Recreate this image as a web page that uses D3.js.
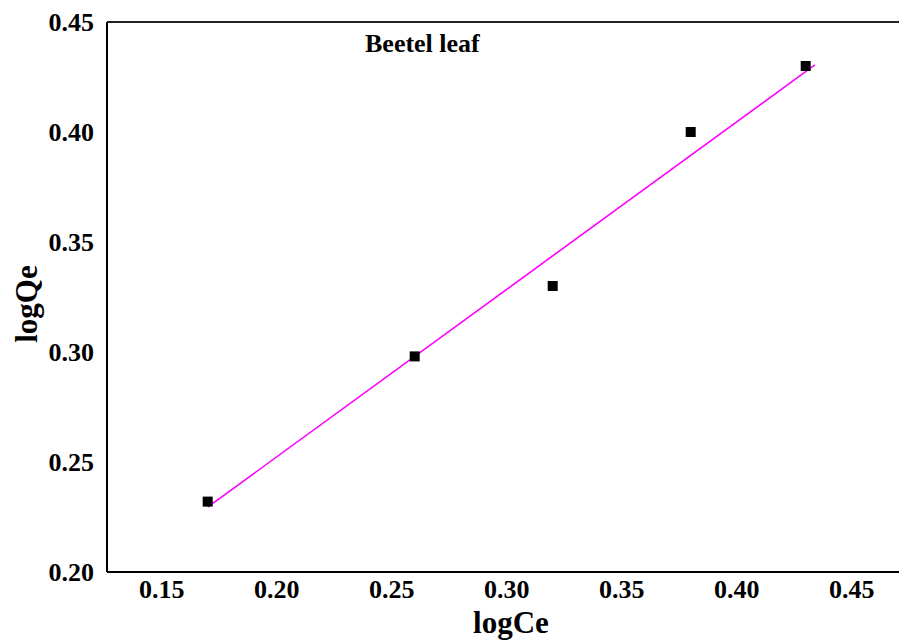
<!DOCTYPE html>
<html>
<head>
<meta charset="utf-8">
<script src="https://cdn.jsdelivr.net/npm/d3@7"></script>
<style>
  html, body { margin: 0; padding: 0; background: #fff; }
  svg { display: block; }
  text { font-family: "Liberation Serif", "Times New Roman", serif; font-weight: bold; fill: #000; }
</style>
</head>
<body>
<script>
// Data
const logCe = [0.17, 0.26, 0.32, 0.38, 0.43];
const logQe = [0.232, 0.298, 0.33, 0.40, 0.43];
const fitX = [0.17, 0.434];
const fitY = [0.2295, 0.4305];
const xTicks = [0.15, 0.20, 0.25, 0.30, 0.35, 0.40, 0.45];
const yTicks = [0.20, 0.25, 0.30, 0.35, 0.40, 0.45];
const chartTitle = "Beetel leaf";

(function () {
const W = 899, H = 640;
const svg = d3.select("body").append("svg").attr("width", W).attr("height", H);

const mLeft = 107, mRight = 899, mTop = 22, mBottom = 572;
const x = d3.scaleLinear().domain([0.15 - (161.7 - 107) / 2300, 0.15 + (899 - 161.7) / 2300]).range([mLeft, mRight]);
const y = d3.scaleLinear().domain([0.20, 0.45]).range([mBottom, mTop]);

// frame lines: left, bottom, top
svg.append("line").attr("x1", mLeft).attr("x2", mLeft).attr("y1", mTop).attr("y2", mBottom)
  .attr("stroke", "#000").attr("stroke-width", 2);
svg.append("line").attr("x1", mLeft).attr("x2", mRight).attr("y1", mBottom).attr("y2", mBottom)
  .attr("stroke", "#000").attr("stroke-width", 2);
svg.append("line").attr("x1", mLeft).attr("x2", mRight).attr("y1", mTop).attr("y2", mTop)
  .attr("stroke", "#222").attr("stroke-width", 2);

// y tick labels
svg.append("g").selectAll("text").data(yTicks).join("text")
  .attr("x", 94).attr("y", d => y(d)).attr("dy", "0.35em")
  .attr("text-anchor", "end").attr("font-size", 26)
  .text(d => d3.format(".2f")(d));

// x tick labels
svg.append("g").selectAll("text").data(xTicks).join("text")
  .attr("x", d => x(d)).attr("y", 598)
  .attr("text-anchor", "middle").attr("font-size", 26)
  .text(d => d3.format(".2f")(d));

// axis titles
svg.append("text").attr("x", 511).attr("y", 633).attr("text-anchor", "middle")
  .attr("font-size", 31).text("logCe");
svg.append("text").attr("transform", "rotate(-90)").attr("x", -304).attr("y", 37)
  .attr("text-anchor", "middle").attr("font-size", 31).text("logQe");

// title
svg.append("text").attr("x", 365).attr("y", 52).attr("font-size", 26).text(chartTitle);

// fit line
svg.append("line")
  .attr("x1", x(fitX[0])).attr("y1", y(fitY[0]))
  .attr("x2", x(fitX[1])).attr("y2", y(fitY[1]))
  .attr("stroke", "#ff00ff").attr("stroke-width", 1.6);

// points
const s = 10;
svg.append("g").selectAll("rect").data(logCe.map((c, i) => [c, logQe[i]])).join("rect")
  .attr("x", d => x(d[0]) - s / 2).attr("y", d => y(d[1]) - s / 2)
  .attr("width", s).attr("height", s).attr("fill", "#000");
})();
</script>
</body>
</html>
